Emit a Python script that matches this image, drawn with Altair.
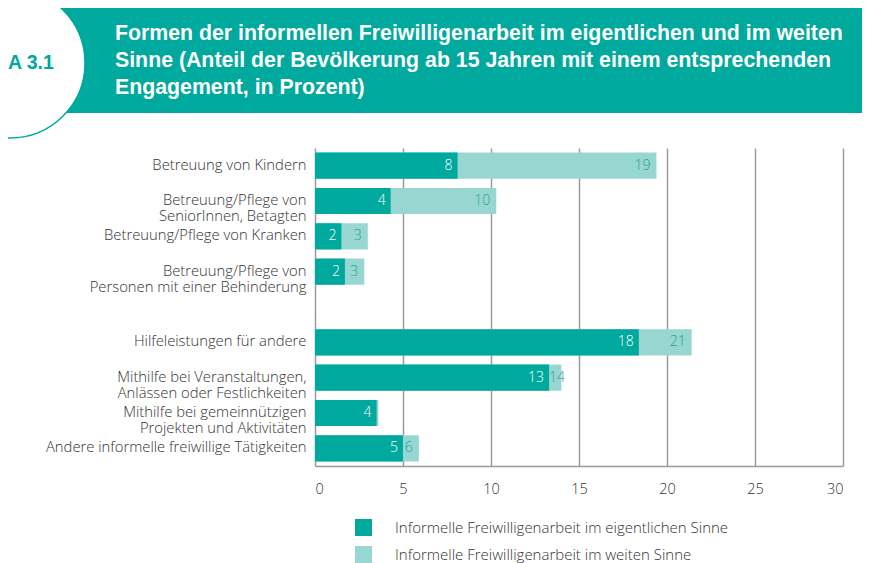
import altair as alt
import pandas as pd

categories = [
    "Betreuung von Kindern",
    "Betreuung/Pflege von|SeniorInnen, Betagten",
    "Betreuung/Pflege von Kranken",
    "Betreuung/Pflege von|Personen mit einer Behinderung",
    "Hilfeleistungen für andere",
    "Mithilfe bei Veranstaltungen,|Anlässen oder Festlichkeiten",
    "Mithilfe bei gemeinnützigen|Projekten und Aktivitäten",
    "Andere informelle freiwillige Tätigkeiten",
]
y_domain = categories[:4] + [" "] + categories[4:]

eigentlich = [8.1, 4.3, 1.5, 1.7, 18.4, 13.3, 3.5, 5.0]
weit = [19.4, 10.3, 3.0, 2.8, 21.4, 14.0, 3.6, 5.9]
labels_eig = ["8", "4", "2", "2", "18", "13", "4", "5"]
labels_weit = ["19", "10", "3", "3", "21", "14", "", "6"]

series = [
    "Informelle Freiwilligenarbeit im eigentlichen Sinne",
    "Informelle Freiwilligenarbeit im weiten Sinne",
]
x_ticks = [0, 5, 10, 15, 20, 25, 30]

title_lines = [
    "Formen der informellen Freiwilligenarbeit im eigentlichen und im weiten",
    "Sinne (Anteil der Bevölkerung ab 15 Jahren mit einem entsprechenden",
    "Engagement, in Prozent)",
]
badge = "A 3.1"

DARK = "#00A99D"
LIGHT = "#98D6D2"
LBL = "#333333"
GRID = "#9a9a9a"
FONT = "Open Sans"

df_e = pd.DataFrame({"cat": categories, "value": eigentlich, "label": labels_eig, "series": series[0]})
df_w = pd.DataFrame({"cat": categories, "value": weit, "eig": eigentlich,
                     "label": labels_weit, "series": series[1]})

x_enc = alt.X("value:Q", scale=alt.Scale(domain=[0, 30], nice=False),
              axis=alt.Axis(values=x_ticks, title=None, grid=True, gridColor=GRID, gridWidth=1.5,
                            domainColor=GRID, domainWidth=1.5, ticks=False, labelPadding=16,
                            labelFontSize=14.5, labelColor=LBL, labelFont=FONT))
y_enc = alt.Y("cat:N", scale=alt.Scale(domain=y_domain, paddingInner=0.26, paddingOuter=0.13),
              axis=alt.Axis(title=None, domain=False, ticks=False, labelPadding=9,
                            labelExpr="split(datum.label, '|')", labelLineHeight=16,
                            labelFontSize=14.8, labelColor=LBL, labelLimit=320,
                            labelFont=FONT))
color_enc = alt.Color("series:N", scale=alt.Scale(domain=series, range=[DARK, LIGHT]),
                      legend=alt.Legend(title=None, orient="none", legendX=40, legendY=371,
                                        symbolType="square", symbolSize=289, symbolStrokeWidth=0,
                                        symbolOpacity=1, labelFontSize=15, labelColor=LBL,
                                        labelFont=FONT, labelFontWeight=300, labelOffset=23,
                                        rowPadding=10, labelLimit=500, padding=0))

bars_w = alt.Chart(df_w).mark_bar(opacity=1).encode(x=x_enc, y=y_enc, color=color_enc)
bars_e = alt.Chart(df_e).mark_bar(opacity=1).encode(x=x_enc, y=y_enc, color=color_enc)
text_w = alt.Chart(df_w).transform_calculate(
    lx="(datum.value - datum.eig < 0.8) ? datum.eig + 1.25 : datum.value"
).mark_text(align="right", baseline="middle", dx=-6, fontSize=14,
            font=FONT, fontWeight=300, color="#1FA398").encode(
    x="lx:Q", y=alt.Y("cat:N"), text="label:N")
text_e = alt.Chart(df_e).mark_text(align="right", baseline="middle", dx=-5, fontSize=14,
                                   font=FONT, fontWeight=300, color="white").encode(
    x="value:Q", y=alt.Y("cat:N"), text="label:N")

one = pd.DataFrame({"a": [0]})
band = alt.Chart(one).mark_rect(color=DARK).encode(
    x=alt.value(-307), x2=alt.value(560), y=alt.value(-142), y2=alt.value(-35))
disc = alt.Chart(one).mark_point(shape="circle", filled=False, fill="white", fillOpacity=1,
                                 stroke=DARK, strokeWidth=1.5, opacity=1).encode(
    x=alt.value(-305), y=alt.value(-85), size=alt.value(150 * 150))
badge_t = alt.Chart(one).mark_text(text=badge, font="Liberation Sans", fontWeight="bold",
                                   fontSize=19.5, color=DARK, align="left", baseline="middle").encode(
    x=alt.value(-307), y=alt.value(-85))
title_t = alt.Chart(one).mark_text(text=title_lines, font="Liberation Sans", fontWeight="bold",
                                   fontSize=21.3, color="white", align="left",
                                   baseline="alphabetic", lineHeight=27).encode(
    x=alt.value(-200), y=alt.value(-108.5))

chart = alt.layer(band, disc, badge_t, title_t, bars_w, bars_e, text_w, text_e).properties(
    width=528, height=318,
    autosize=alt.AutoSizeParams(type="none"),
    padding={"left": 307, "top": 140, "right": 19, "bottom": 97},
).configure_view(stroke=None).configure_axis(labelFontWeight=300)

chart.save("out.html", embed_options={"renderer": "svg", "actions": False})
